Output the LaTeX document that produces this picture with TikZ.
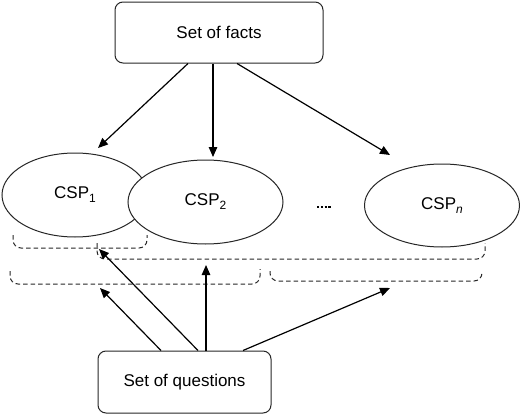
\documentclass[tikz,border=0pt]{standalone}
\usepackage{fontspec}
\setmainfont{Liberation Sans}
\usetikzlibrary{shapes.geometric,arrows.meta}
\tikzset{
  boxnode/.style={draw=black!85, line width=1pt, rounded corners=8pt, inner sep=0pt, font=\fontsize{17}{20}\selectfont},
  cspnode/.style={ellipse, draw=black!85, line width=1pt, fill=white, inner sep=0pt, font=\fontsize{17}{20}\selectfont},
  arr/.style={line width=1.2pt, -{Triangle[length=10pt,width=8.5pt]}},
  brk/.style={draw=black!85, line width=1pt, dash pattern=on 4.5pt off 3pt, rounded corners=8pt},
}
\newcommand{\sub}[1]{\raisebox{-0.45ex}{\fontsize{12}{12}\selectfont #1}}
\begin{document}
\begin{tikzpicture}[x=1pt,y=-1pt]
\useasboundingbox (0,0) rectangle (520,415);
% boxes
\node[boxnode, minimum width=208pt, minimum height=61pt] (facts) at (219,32.5) {Set of facts};
\node[boxnode, minimum width=173pt, minimum height=62pt] (questions) at (184.5,382) {Set of questions};
% ellipses
\node[cspnode, minimum width=146pt, minimum height=84pt] (csp1) at (75,195) {CSP\sub{1}};
\node[cspnode, minimum width=155pt, minimum height=84pt] (csp2) at (205.5,202) {CSP\sub{2}};
\node[cspnode, minimum width=155pt, minimum height=83pt] (cspn) at (442,205.5) {CSP\sub{\textit{n}}};
\draw[line width=2.4pt, dash pattern=on 2.2pt off 1.6pt] (317,207) -- (332,207);
% brackets
\draw[brk] (13,235) -- (13,248) -- (147,248) -- (147,235);
\draw[brk] (97,243) -- (97,259) -- (485,259) -- (485,243);
\draw[brk] (10,271) -- (10,284) -- (260,284) -- (260,269);
\draw[brk] (270,271) -- (270,281) -- (482,281) -- (482,271);
% tips
\coordinate (a1) at (98,148);
\coordinate (a2) at (213,157);
\coordinate (a3) at (390,155);
\coordinate (b1) at (100,288);
\coordinate (b2) at (99,249);
\coordinate (b3) at (206,265);
\coordinate (b4) at (390,288);
% arrows
\draw[arr] ([xshift=-31pt]facts.south) -- (a1);
\draw[arr] ([xshift=-6pt]facts.south) -- (a2);
\draw[arr] ([xshift=18pt]facts.south) -- (a3);
\draw[arr] ([xshift=-23.5pt]questions.north) -- (b1);
\draw[arr] ([xshift=13.5pt]questions.north) -- (b2);
\draw[arr] ([xshift=21.5pt]questions.north) -- (b3);
\draw[arr] ([xshift=58.5pt]questions.north) -- (b4);
\end{tikzpicture}
\end{document}
